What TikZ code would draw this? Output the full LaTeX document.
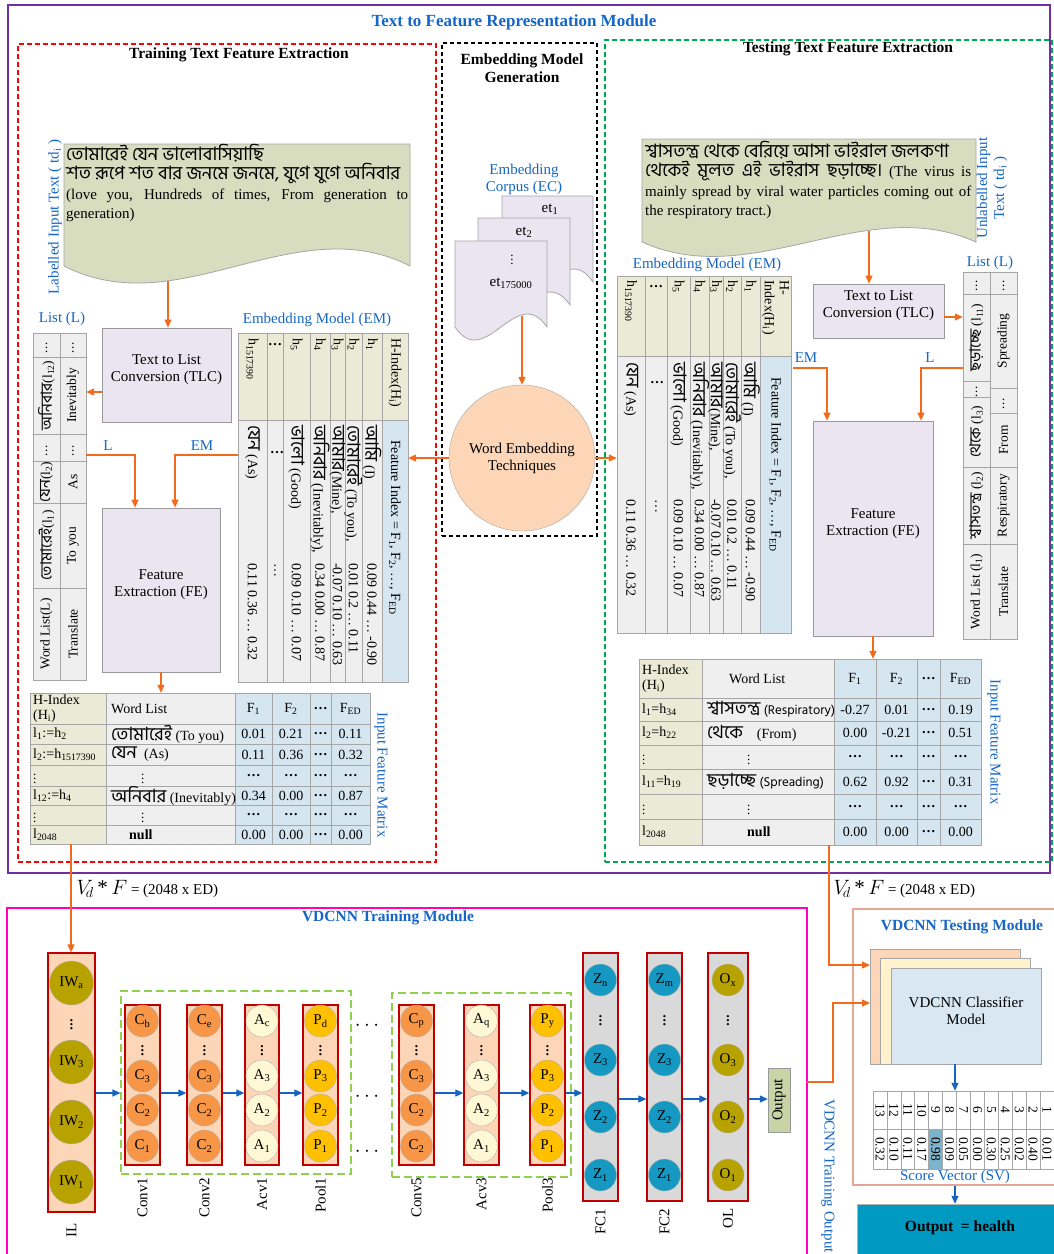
\documentclass[tikz,border=0pt]{standalone}
\usepackage{fontspec}
\setmainfont{Liberation Serif}
\newfontfamily\bn[Script=Bengali, Scale=1.3]{Hind Siliguri}
\newfontfamily\bnl{Hind Siliguri}
\usetikzlibrary{arrows.meta,positioning,fit}

\definecolor{purp}{HTML}{7030A0}
\definecolor{dred}{HTML}{FF0000}
\definecolor{dgreen}{HTML}{00A64F}
\definecolor{pinkc}{HTML}{FF00BF}
\definecolor{blu}{HTML}{1666C5}
\definecolor{orng}{HTML}{F26B1D}
\definecolor{arblue}{HTML}{1565C0}
\definecolor{docfill}{HTML}{D9DDBF}
\definecolor{lav}{HTML}{EAE5F0}
\definecolor{olv}{HTML}{EAEAD6}
\definecolor{gry}{HTML}{EFEFEF}
\definecolor{lblue}{HTML}{D5E6F1}
\definecolor{peach}{HTML}{FCD6B6}
\definecolor{convc}{HTML}{F79646}
\definecolor{actc}{HTML}{FFF8D5}
\definecolor{poolc}{HTML}{FFC000}
\definecolor{olivec}{HTML}{B8A200}
\definecolor{tealc}{HTML}{1599C2}
\definecolor{fcg}{HTML}{D9D9D9}
\definecolor{layred}{HTML}{C00000}
\definecolor{grpgreen}{HTML}{92D050}
\definecolor{salmon}{HTML}{E5A597}
\definecolor{cream}{HTML}{FFF2CC}
\definecolor{clfblue}{HTML}{D9E7F2}
\definecolor{outteal}{HTML}{0099C2}
\definecolor{hl}{HTML}{7DB4CC}
\definecolor{outbox}{HTML}{C9D3A6}

\newcommand{\sbx}[1]{\textsubscript{#1}}
\newcommand{\bigvd}{{\fontsize{19}{19}\selectfont$\vdots$}}
\newcommand{\rowvd}{{\fontsize{13}{13}\selectfont$\vdots$}}

% table cell: name, x1, y1, x2, y2, fill, rotation, text
\newcommand{\tcell}[8]{%
  \draw[tab, fill=#6] (#2,#3) rectangle (#4,#5);
  \node[rotate=#7, inner sep=0pt, align=center] (#1) at ({(#2+#4)/2},{(#3+#5)/2}) {#8};}

% document shape: x1, y1, x2, wave base, wave depth, fill
\newcommand{\docshape}[6]{%
  \draw[draw=gray!70, line width=0.8pt, fill=#6] (#1,#2) -- (#3,#2) -- (#3,#4)
    .. controls ({#1+2*(#3-#1)/3},{#4-#5}) and ({#1+(#3-#1)/3},{#4+#5}) .. (#1,#4) -- cycle;}

% feature matrix row: y1, y2, index, word, F1, F2, FED
\newcommand{\mrow}[7]{%
  \draw[tab, fill=olv] (\mxa,#1) rectangle (\mxb,#2);
  \draw[tab, fill=gry] (\mxb,#1) rectangle (\mxc,#2);
  \draw[tab, fill=lblue] (\mxc,#1) rectangle (\mxd,#2);
  \draw[tab, fill=lblue] (\mxd,#1) rectangle (\mxe,#2);
  \draw[tab, fill=lblue] (\mxe,#1) rectangle (\mxf,#2);
  \draw[tab, fill=lblue] (\mxf,#1) rectangle (\mxg,#2);
  \node[anchor=west, align=left, inner sep=0pt] (\mpre#1a) at ({\mxa+3},{(#1+#2)/2}) {#3};
  \node[anchor=west, align=left, inner sep=0pt] (\mpre#1b) at ({\mxb+5},{(#1+#2)/2}) {#4};
  \node (\mpre#1c) at ({(\mxc+\mxd)/2},{(#1+#2)/2}) {#5};
  \node (\mpre#1d) at ({(\mxd+\mxe)/2},{(#1+#2)/2}) {#6};
  \node (\mpre#1e) at ({(\mxe+\mxf)/2},{(#1+#2)/2}) {\textbf{\ldots}};
  \node (\mpre#1f) at ({(\mxf+\mxg)/2},{(#1+#2)/2}) {#7};}

\begin{document}
\begin{tikzpicture}[x=1pt, y=-1pt, font=\rmfamily\fontsize{15}{17}\selectfont,
  oarr/.style={draw=orng, line width=1.1pt, -{Triangle[length=8pt,width=7pt]}},
  barr/.style={draw=arblue, line width=1.1pt, -{Triangle[length=8pt,width=7pt]}},
  box/.style={draw=gray!80, fill=lav, line width=0.8pt, inner sep=0pt, align=center},
  tab/.style={draw=gray!70, line width=0.7pt},
  blab/.style={text=blu},
  ttl/.style={font=\rmfamily\fontsize{15.5}{18}\selectfont\bfseries},
  layer/.style={draw=layred, line width=1.3pt, inner sep=0pt},
  neuron/.style={circle, draw=gray!60, minimum size=32pt, inner sep=0pt},
  grp/.style={draw=grpgreen, dash pattern=on 8pt off 4pt, line width=1.1pt, inner sep=0pt},
  area/.style={inner sep=0pt}]

\fill[white] (0,0) rectangle (1054,1254);
\useasboundingbox (0,0) rectangle (1054,1254);

% Frames
\node[area, draw=purp, line width=2pt, fit={(8,5) (1050,873)}] (tfr) {};
\node[ttl, text=blu, font=\rmfamily\fontsize{17}{19}\selectfont\bfseries] (tfrt) at (514,22) {Text to Feature Representation Module};
\node[area, draw=dred, line width=2pt, dash pattern=on 5pt off 3pt, fit={(18,44) (436,862)}] (trfe) {};
\node[ttl] (trfet) at (239,55) {Training Text Feature Extraction};
\node[area, draw=black, line width=2pt, dash pattern=on 4pt off 3pt, fit={(442,43) (597,536)}] (emg) {};
\node[ttl, align=center] (emgt) at (522,68) {Embedding Model\\Generation};
\node[area, draw=dgreen, line width=2pt, dash pattern=on 5pt off 3pt, fit={(605,40) (1052,862)}] (tsfe) {};
\node[ttl] (tsfet) at (848,49) {Testing Text Feature Extraction};

% Training input text
\docshape{64}{144}{410}{266}{59}{docfill}
\node[anchor=north west, inner sep=0pt, text width=342pt, align=justify,
  font=\rmfamily\fontsize{15}{19.5}\selectfont] (ldoct) at (66,144)
  {{\bn\fontsize{14.2}{19.5}\selectfont তোমারেই যেন ভালোবাসিয়াছি\\শত রূপে শত বার জনমে জনমে, যুগে যুগে অনিবার}\\(love you, Hundreds of times, From generation to \mbox{generation)}};
\node[rotate=90, blab] (ldocl) at (55,217) {Labelled Input Text ( td\sbx{i} )};

\node[box, fit={(102,328) (231,422)}] (tlcL) {Text to List\\Conversion (TLC)};
\node[box, fit={(102,508) (220,672)}] (feL) {Feature\\Extraction (FE)};

% Training list
\node[blab] (llistt) at (62,319) {List (L)};
\begin{scope}[font=\rmfamily\fontsize{13.5}{15}\selectfont]
\tcell{la1}{33}{333}{60}{357}{gry}{0}{$\vdots$}
\tcell{la2}{33}{357}{60}{434}{gry}{90}{{\bn\fontsize{12}{14}\selectfont অনিবার}(l\sbx{12})}
\tcell{la3}{33}{434}{60}{461}{gry}{0}{$\vdots$}
\tcell{la4}{33}{461}{60}{503}{gry}{90}{{\bn\fontsize{12}{14}\selectfont যেন}(l\sbx{2})}
\tcell{la5}{33}{503}{60}{588}{gry}{90}{{\bn\fontsize{12}{14}\selectfont তোমারেই}(l\sbx{1})}
\tcell{la6}{33}{588}{60}{680}{gry}{90}{Word List(L)}
\tcell{lb1}{60}{333}{86}{357}{gry}{0}{$\vdots$}
\tcell{lb2}{60}{357}{86}{434}{gry}{90}{Inevitably}
\tcell{lb3}{60}{434}{86}{461}{gry}{0}{$\vdots$}
\tcell{lb4}{60}{461}{86}{503}{gry}{90}{As}
\tcell{lb5}{60}{503}{86}{588}{gry}{90}{To you}
\tcell{lb6}{60}{588}{86}{680}{gry}{90}{Translate}
\end{scope}
\node[area, fit={(33,333) (86,680)}] (llist) {};

% Training embedding model
\node[blab] (emlt) at (317,320) {Embedding Model (EM)};
\begin{scope}[font=\rmfamily\fontsize{14}{15}\selectfont]
\foreach \xa/\xb/\hd/\wt/\nm/\fl [count=\kk] in {
  238/267/{h\sbx{1517390}}/{{\bn যেন} (As)}/{0.11 0.36 \ldots\ 0.32}/gry,
  267/283/{}/{}/{\ldots}/gry,
  283/310/{h\sbx{5}}/{{\bn ভালো} (Good)}/{0.09 0.10 \ldots\ 0.07}/gry,
  310/330/{h\sbx{4}}/{{\bn অনিবার} (Inevitably),}/{0.34 0.00 \ldots\ 0.87}/gry,
  330/345/{h\sbx{3}}/{{\bn আমার}(Mine),}/{-0.07 0.10 \ldots\ 0.63}/gry,
  345/362/{h\sbx{2}}/{{\bn তোমারেই} (To you),}/{0.01 0.2 \ldots\ 0.11}/gry,
  362/382/{h\sbx{1}}/{{\bn আমি} (I)}/{0.09 0.44 \ldots\ -0.90}/gry,
  382/408/{H-Index(H\sbx{i})}/{\hspace*{15pt}Feature Index = F\sbx{1}, F\sbx{2}, \ldots, F\sbx{ED}}/{}/lblue}{
  \draw[tab, fill=olv] (\xa,333) rectangle (\xb,420);
  \draw[tab, fill=\fl] (\xa,420) rectangle (\xb,682);
  \node[rotate=-90, anchor=west, align=left, inner sep=0pt] (emlh\kk) at ({(\xa+\xb)/2},338) {\hd};
  \node[rotate=-90, anchor=west, inner sep=0pt] (emlw\kk) at ({(\xa+\xb)/2},425) {\wt};
  \node[rotate=-90, anchor=west, inner sep=0pt] (emln\kk) at ({(\xa+\xb)/2},563) {\nm};
}
\node (emlhx) at (275,345) {\textbf{\ldots}};
\node (emlwx) at (277,453) {\textbf{\ldots}};
\end{scope}
\node[area, fit={(238,333) (408,682)}] (emL) {};

% Training feature matrix
\begin{scope}[font=\rmfamily\fontsize{14}{15}\selectfont]
\def\mxa{30}\def\mxb{106}\def\mxc{235}\def\mxd{272}\def\mxe{310}\def\mxf{331}\def\mxg{370}\def\mpre{lm}
\mrow{693}{724}{H-Index\\(H\sbx{i})}{Word List}{F\sbx{1}}{F\sbx{2}}{F\sbx{ED}}
\mrow{724}{744}{l\sbx{1}:=h\sbx{2}}{{\bn তোমারেই} (To you)}{0.01}{0.21}{0.11}
\mrow{744}{765}{l\sbx{2}:=h\sbx{1517390}}{{\bn যেন}\ \ (As)}{0.11}{0.36}{0.32}
\mrow{765}{786}{\rowvd}{\hspace*{30pt}\rowvd}{\textbf{\ldots}}{\textbf{\ldots}}{\textbf{\ldots}}
\mrow{786}{805}{l\sbx{12}:=h\sbx{4}}{{\bn অনিবার} (Inevitably)}{0.34}{0.00}{0.87}
\mrow{805}{825}{\rowvd}{\hspace*{30pt}\rowvd}{\textbf{\ldots}}{\textbf{\ldots}}{\textbf{\ldots}}
\mrow{825}{844}{l\sbx{2048}}{\hspace*{18pt}\textbf{null}}{0.00}{0.00}{0.00}
\end{scope}
\node[area, fit={(30,693) (370,844)}] (lmat) {};
\node[rotate=-90, blab] (lmatl) at (381,775) {Input Feature Matrix};

% Embedding corpus and techniques
\node[blab, align=center] (ect) at (524,179) {Embedding\\Corpus (EC)};
\docshape{502}{196}{593}{282}{45}{lav}
\docshape{478}{218}{570}{305}{45}{lav}
\docshape{455}{241}{547}{327}{45}{lav}
\node (et1) at (550,209) {et\sbx{1}};
\node (et2) at (524,232) {et\sbx{2}};
\node (etd) at (512,257) {\rowvd};
\node (etn) at (511,283) {et\sbx{175000}};
\coordinate (ecb) at (522,316);
\node[circle, draw=gray!70, fill=peach, minimum size=146pt, inner sep=0pt, align=center] (wet) at (522,458) {Word Embedding\\Techniques};

% Testing input text
\docshape{642}{139}{976}{242}{50}{docfill}
\node[anchor=north west, inner sep=0pt, text width=326pt, align=justify,
  font=\rmfamily\fontsize{15}{19.5}\selectfont] (rdoct) at (645,141)
  {{\bn\fontsize{14.2}{19.5}\selectfont শ্বাসতন্ত্র থেকে বেরিয়ে আসা ভাইরাল জলকণা\\থেকেই মূলত এই ভাইরাস ছড়াচ্ছে।} (The virus is mainly spread by viral water particles coming out of the respiratory tract.)};
\node[rotate=90, blab, align=center] (rdocl) at (992,188) {Unlabelled Input\\Text ( td\sbx{i} )};

\node[box, fit={(813,284) (944,338)}] (tlcR) {Text to List\\Conversion (TLC)};
\node[box, fit={(813,421) (933,636)}] (feR) {Feature\\Extraction (FE)};

% Testing list
\node[blab] (rlistt) at (990,263) {List (L)};
\begin{scope}[font=\rmfamily\fontsize{13.5}{15}\selectfont]
\tcell{ra1}{963}{272}{990}{294}{gry}{0}{$\vdots$}
\tcell{ra2}{963}{294}{990}{381}{gry}{90}{{\bn\fontsize{12}{14}\selectfont ছড়াচ্ছে} (l\sbx{11})}
\tcell{ra3}{963}{381}{990}{397}{gry}{0}{$\vdots$}
\tcell{ra4}{963}{397}{990}{467}{gry}{90}{{\bn\fontsize{12}{14}\selectfont থেকে} (l\sbx{3})}
\tcell{ra5}{963}{467}{990}{544}{gry}{90}{{\bn\fontsize{12}{14}\selectfont শ্বাসতন্ত্র} (l\sbx{2})}
\tcell{ra6}{963}{544}{990}{639}{gry}{90}{Word List (l\sbx{1})}
\tcell{rb1}{990}{272}{1017}{294}{gry}{0}{$\vdots$}
\tcell{rb2}{990}{294}{1017}{388}{gry}{90}{Spreading}
\tcell{rb3}{990}{388}{1017}{413}{gry}{0}{$\vdots$}
\tcell{rb4}{990}{413}{1017}{467}{gry}{90}{From}
\tcell{rb5}{990}{467}{1017}{544}{gry}{90}{Respiratory}
\tcell{rb6}{990}{544}{1017}{639}{gry}{90}{Translate}
\end{scope}
\node[area, fit={(963,272) (1017,639)}] (rlist) {};

% Testing embedding model
\node[blab] (emrt) at (707,265) {Embedding Model (EM)};
\begin{scope}[font=\rmfamily\fontsize{14}{15}\selectfont]
\foreach \xa/\xb/\hd/\wt/\nm/\fl [count=\kk] in {
  617/645/{h\sbx{1517390}}/{{\bn যেন} (As)}/{0.11 0.36 \ldots\ 0.32}/gry,
  645/667/{}/{}/{\ldots}/gry,
  667/690/{h\sbx{5}}/{{\bn ভালো} (Good)}/{0.09 0.10 \ldots\ 0.07}/gry,
  690/709/{h\sbx{4}}/{{\bn অনিবার} (Inevitably),}/{0.34 0.00 \ldots\ 0.87}/gry,
  709/723/{h\sbx{3}}/{{\bn আমার}(Mine),}/{-0.07 0.10 \ldots\ 0.63}/gry,
  723/741/{h\sbx{2}}/{{\bn তোমারেই} (To you),}/{0.01 0.2 \ldots\ 0.11}/gry,
  741/760/{h\sbx{1}}/{{\bn আমি} (I)}/{0.09 0.44 \ldots\ -0.90}/gry,
  760/791/{H-\\Index(H\sbx{i})}/{\hspace*{15pt}Feature Index = F\sbx{1}, F\sbx{2}, \ldots, F\sbx{ED}}/{}/lblue}{
  \draw[tab, fill=olv] (\xa,276) rectangle (\xb,356);
  \draw[tab, fill=\fl] (\xa,356) rectangle (\xb,633);
  \node[rotate=-90, anchor=west, align=left, inner sep=0pt] (emrh\kk) at ({(\xa+\xb)/2},280) {\hd};
  \node[rotate=-90, anchor=west, inner sep=0pt] (emrw\kk) at ({(\xa+\xb)/2},362) {\wt};
  \node[rotate=-90, anchor=west, inner sep=0pt] (emrn\kk) at ({(\xa+\xb)/2},499) {\nm};
}
\node (emrhx) at (656,287) {\textbf{\ldots}};
\node (emrwx) at (657,383) {\textbf{\ldots}};
\end{scope}
\node[area, fit={(617,276) (791,633)}] (emR) {};

% Testing feature matrix
\begin{scope}[font=\rmfamily\fontsize{14}{15}\selectfont]
\def\mxa{639}\def\mxb{702}\def\mxc{834}\def\mxd{876}\def\mxe{917}\def\mxf{940}\def\mxg{981}\def\mpre{rm}
\mrow{659}{698}{H-Index\\(H\sbx{i})}{\hspace*{22pt}Word List}{F\sbx{1}}{F\sbx{2}}{F\sbx{ED}}
\mrow{698}{721}{l\sbx{1}=h\sbx{34}}{{\bn শ্বাসতন্ত্র} {\bnl\fontsize{13}{15}\selectfont(Respiratory)}}{-0.27}{0.01}{0.19}
\mrow{721}{745}{l\sbx{2}=h\sbx{22}}{{\bn থেকে}\quad(From)}{0.00}{-0.21}{0.51}
\mrow{745}{769}{\rowvd}{\hspace*{40pt}\rowvd}{\textbf{\ldots}}{\textbf{\ldots}}{\textbf{\ldots}}
\mrow{769}{794}{l\sbx{11}=h\sbx{19}}{{\bn ছড়াচ্ছে} {\bnl\fontsize{13}{15}\selectfont(Spreading)}}{0.62}{0.92}{0.31}
\mrow{794}{819}{\rowvd}{\hspace*{40pt}\rowvd}{\textbf{\ldots}}{\textbf{\ldots}}{\textbf{\ldots}}
\mrow{819}{845}{l\sbx{2048}}{\hspace*{40pt}\textbf{null}}{0.00}{0.00}{0.00}
\end{scope}
\node[area, fit={(639,659) (981,845)}] (rmat) {};
\node[rotate=-90, blab] (rmatl) at (994,742) {Input Feature Matrix};

% Connections in the representation module
\coordinate (ldocb) at (168,281);
\draw[oarr] (ldocb) -- (ldocb |- tlcL.north);
\coordinate (a1) at (102,392);
\draw[oarr] (a1) -- (a1 -| llist.east);
\coordinate (a2) at (86,455);
\coordinate (xL) at (135,0);
\draw[oarr] (a2) -| (xL |- feL.north);
\coordinate (a4) at (238,455);
\coordinate (xEM) at (175,0);
\draw[oarr] (a4) -| (xEM |- feL.north);
\node[blab] (lL) at (108,446) {L};
\node[blab] (lEM) at (202,446) {EM};
\draw[oarr] (feL.south) -- (feL.south |- lmat.north);
\draw[oarr] (ecb) -- (wet.north);
\draw[oarr] (wet.west) -- (wet.west -| emL.east);
\draw[oarr] (wet.east) -- (wet.east -| emR.west);
\coordinate (rdocb) at (869,231);
\draw[oarr] (rdocb) -- (rdocb |- tlcR.north);
\coordinate (b1) at (944,317);
\draw[oarr] (b1) -- (b1 -| rlist.west);
\coordinate (b2) at (793,368);
\coordinate (xEMr) at (827,0);
\draw[oarr] (b2) -| (xEMr |- feR.north);
\coordinate (b3) at (963,368);
\coordinate (xLr) at (921,0);
\draw[oarr] (b3) -| (xLr |- feR.north);
\node[blab] (rEM) at (806,358) {EM};
\node[blab] (rL) at (930,358) {L};
\draw[oarr] (feR.south) -- (feR.south |- rmat.north);

% VDCNN training module
\draw[draw=pinkc, line width=2pt] (7,1262) |- (807,908) -- (807,1262);
\node[ttl, text=blu] (trmt) at (388,918) {VDCNN Training Module};
\node[anchor=west] (vdl) at (73,889) {{\fontsize{21}{21}\selectfont$V_{\!d}$\,*\,$F$} = (2048 x ED)};
\node[anchor=west] (vdr) at (830,889) {{\fontsize{21}{21}\selectfont$V_{\!d}$\,*\,$F$} = (2048 x ED)};

\node[layer, fill=peach, fit={(48,953) (95,1212)}] (il) {};
\foreach \cy/\ct [count=\kk] in {983/IW\sbx{a}, 1062/IW\sbx{3}, 1122/IW\sbx{2}, 1182/IW\sbx{1}}
  \node[neuron, minimum size=44pt, fill=olivec] (iw\kk) at (71.5,\cy) {\ct};
\node (ild) at (71.5,1022) {\bigvd};
\node[rotate=90] (ilt) at (71.5,1230) {IL};

\node[grp, fit={(121,991) (351,1174)}] (g1) {};
\node[grp, fit={(392,993) (571,1177)}] (g2) {};
\foreach \nm/\xa/\xb/\nf/\la/\lb/\lc/\ld/\tx in {
  cv1/125/160/convc/C\sbx{b}/C\sbx{3}/C\sbx{2}/C\sbx{1}/Conv1,
  cv2/187/222/convc/C\sbx{e}/C\sbx{3}/C\sbx{2}/C\sbx{2}/Conv2,
  ac1/245/279/actc/A\sbx{c}/A\sbx{3}/A\sbx{2}/A\sbx{1}/Acv1,
  pl1/303/338/poolc/P\sbx{d}/P\sbx{3}/P\sbx{2}/P\sbx{1}/Pool1,
  cv5/399/434/convc/C\sbx{p}/C\sbx{3}/C\sbx{2}/C\sbx{2}/Conv5,
  ac3/464/499/actc/A\sbx{q}/A\sbx{3}/A\sbx{2}/A\sbx{1}/Acv3,
  pl3/530/565/poolc/P\sbx{y}/P\sbx{3}/P\sbx{2}/P\sbx{1}/Pool3}{
  \node[layer, fill=peach, fit={(\xa,1005) (\xb,1165)}] (\nm) {};
  \node[neuron, fill=\nf] (\nm-4) at ({(\xa+\xb)/2},1021) {\la};
  \node (\nm-d) at ({(\xa+\xb)/2},1048) {\bigvd};
  \node[neuron, fill=\nf] (\nm-3) at ({(\xa+\xb)/2},1076) {\lb};
  \node[neuron, fill=\nf] (\nm-2) at ({(\xa+\xb)/2},1110) {\lc};
  \node[neuron, fill=\nf] (\nm-1) at ({(\xa+\xb)/2},1146) {\ld};
  \node[rotate=90, anchor=east] (\nm-t) at ({(\xa+\xb)/2},1174) {\tx};
}
\foreach \nm/\xa/\xb/\nf/\la/\lb/\lc/\ld/\tx in {
  fc1/583/618/tealc/Z\sbx{n}/Z\sbx{3}/Z\sbx{2}/Z\sbx{1}/FC1,
  fc2/647/682/tealc/Z\sbx{m}/Z\sbx{3}/Z\sbx{2}/Z\sbx{1}/FC2,
  ol/708/748/olivec/O\sbx{x}/O\sbx{3}/O\sbx{2}/O\sbx{1}/OL}{
  \node[layer, fill=fcg, fit={(\xa,953) (\xb,1201)}] (\nm) {};
  \node[neuron, fill=\nf] (\nm-4) at ({(\xa+\xb)/2},980) {\la};
  \node (\nm-d) at ({(\xa+\xb)/2},1018) {\bigvd};
  \node[neuron, fill=\nf] (\nm-3) at ({(\xa+\xb)/2},1060) {\lb};
  \node[neuron, fill=\nf] (\nm-2) at ({(\xa+\xb)/2},1117) {\lc};
  \node[neuron, fill=\nf] (\nm-1) at ({(\xa+\xb)/2},1175) {\ld};
  \node[rotate=90, anchor=east] (\nm-t) at ({(\xa+\xb)/2},1205) {\tx};
}
\node (dt1) at (367,1026) {{\fontsize{20}{20}\selectfont$\cdots$}};
\node (dt2) at (367,1097) {{\fontsize{20}{20}\selectfont$\cdots$}};
\node (dt3) at (367,1152) {{\fontsize{20}{20}\selectfont$\cdots$}};
\node[draw=gray!80, fill=outbox, minimum width=22pt, minimum height=64pt, inner sep=0pt] (outt) at (779,1100) {\rotatebox{90}{Output}};

\coordinate (lv) at (0,1093);
\draw[barr] (il.east |- lv) -- (g1.west |- lv);
\draw[barr] (cv1.east |- lv) -- (cv2.west |- lv);
\draw[barr] (cv2.east |- lv) -- (ac1.west |- lv);
\draw[barr] (ac1.east |- lv) -- (pl1.west |- lv);
\draw[barr] (cv5.east |- lv) -- (ac3.west |- lv);
\draw[barr] (ac3.east |- lv) -- (pl3.west |- lv);
\draw[barr] (pl3.east |- lv) -- (fc1.west |- lv);
\coordinate (lw) at (0,1099);
\draw[barr] (fc1.east |- lw) -- (fc2.west |- lw);
\draw[barr] (fc2.east |- lw) -- (ol.west |- lw);
\draw[barr] (ol.east |- lw) -- (outt.west |- lw);

% VDCNN testing module
\node[area, draw=salmon, line width=2pt, fit={(853,909) (1062,1185)}] (tstm) {};
\node[ttl, text=blu] (tstmt) at (962,927) {VDCNN Testing Module};
\node[area, draw=gray!70, fill=peach, fit={(870,949) (1020,1064)}] (stk1) {};
\node[area, draw=gray!70, fill=cream, fit={(880,958) (1030,1064)}] (stk2) {};
\node[area, draw=gray!70, fill=clfblue, align=center, fit={(891,968) (1041,1064)}] (clf) {VDCNN Classifier\\Model};

\begin{scope}[font=\rmfamily\fontsize{13.5}{14}\selectfont]
\foreach \val [count=\kk] in {0.01,0.40,0.02,0.25,0.30,0.00,0.05,0.09,0.98,0.17,0.11,0.10,0.32}{
  \pgfmathsetmacro\xr{1054-(\kk-1)*13.92}
  \pgfmathsetmacro\xl{\xr-13.92}
  \ifnum\kk=9 \def\sf{hl}\else\def\sf{white}\fi
  \draw[tab, fill=white] (\xl,1091) rectangle (\xr,1129);
  \draw[tab, fill=\sf] (\xl,1129) rectangle (\xr,1169);
  \node[rotate=-90, inner sep=0pt] (svn\kk) at ({(\xl+\xr)/2},1110) {\kk};
  \node[rotate=-90, inner sep=0pt] (svv\kk) at ({(\xl+\xr)/2},1149) {\val};
}
\end{scope}
\node[area, fit={(873,1091) (1054,1169)}] (sv) {};
\node[blab] (svt) at (955,1177) {Score Vector (SV)};
\node[area, draw=gray!60, fill=outteal, fit={(857,1204) (1062,1262)}] (outh) {};
\node[ttl] (outht) at (960,1228) {Output\ \ = health};
\node[rotate=-90, blab] (vto) at (828,1176) {VDCNN Training Output};

% Connections to the testing module
\coordinate (lmb) at (71,844);
\draw[oarr] (lmb) -- (lmb |- il.north);
\coordinate (rmb) at (829,845);
\coordinate (in1) at (870,965);
\draw[oarr] (rmb) |- (in1);
\coordinate (tro) at (807,1082);
\coordinate (in2) at (870,1003);
\draw[oarr] (tro) -- ++(26,0) |- (in2);
\coordinate (xsv) at (955,0);
\draw[barr] (clf.south -| xsv) -- (sv.north -| xsv);
\draw[barr] (tstm.south -| xsv) -- (outh.north -| xsv);
\end{tikzpicture}
\end{document}
